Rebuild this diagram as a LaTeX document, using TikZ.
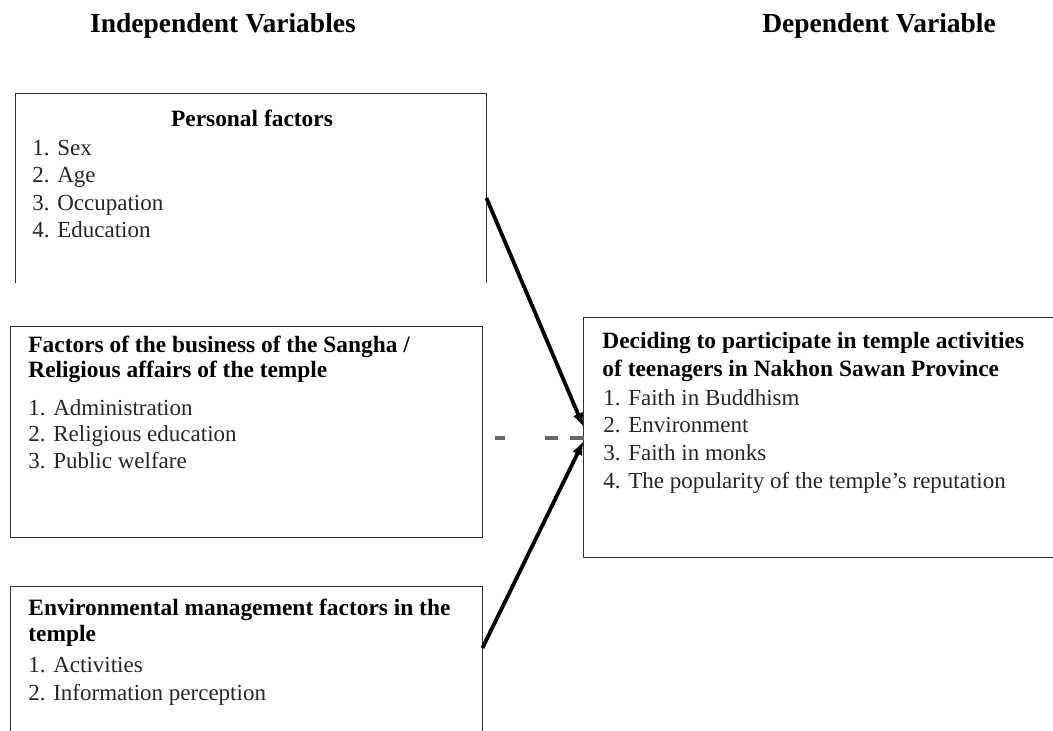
\documentclass[tikz,border=0pt]{standalone}
\usepackage{fontspec}
\setmainfont{Liberation Serif}
\usetikzlibrary{arrows.meta}

\tikzset{
  frame/.style={rectangle,inner sep=0pt},
  rim/.style={draw=black!80,line width=0.6pt},
  head/.style={anchor=base,inner sep=0pt,font=\fontsize{13.75}{16}\selectfont\bfseries},
  title/.style={anchor=base west,inner sep=0pt,font=\fontsize{11.7}{13.8}\selectfont\bfseries},
  item/.style={anchor=base west,inner sep=0pt,text=black!85,font=\fontsize{11.5}{13.8}\selectfont},
  link/.style={line width=1.9pt,-{Latex[length=7pt,width=5.5pt]}},
  dashline/.style={draw=black!60,line width=1.6pt,dash pattern=on 5pt off 20pt on 6.5pt off 6pt on 7pt off 0pt},
}

\begin{document}
\begin{tikzpicture}[x=0.5pt,y=-0.5pt]
\useasboundingbox (0,0) rectangle (1053,730);

\node[head] (indep) at (223,32) {Independent Variables};
\node[head] (dep) at (879,32) {Dependent Variable};

% the four boxes (some are left open on one side)
\node[frame,minimum width=235pt,minimum height=94.5pt] (personal) at (251,188.5) {};
\node[frame,minimum width=235.5pt,minimum height=105pt] (sangha) at (246.5,432) {};
\node[frame,minimum width=235.5pt,minimum height=74pt] (env) at (246.5,661) {};
\node[frame,minimum width=237pt,minimum height=119.5pt] (decide) at (821,437.5) {};
\draw[rim] (personal.south west) |- (personal.north east) -- (personal.south east);
\draw[rim] (sangha.south west) rectangle (sangha.north east);
\draw[rim] (env.south west) |- (env.north east) -- (env.south east);
\draw[rim] (decide.north east) -| (decide.south west) -- (decide.south east);

% personal factors
\node[title,anchor=base] (personal-t) at (252,126) {Personal factors};
\foreach \t [count=\i] in {Sex,Age,Occupation,Education}
  \node[item] (personal-\i) at (32,127.5+27.6*\i) {\i. \t};

% sangha
\node[title] (sangha-t1) at (28,352) {Factors of the business of the Sangha /};
\node[title] (sangha-t2) at (28,377) {Religious affairs of the temple};
\foreach \t [count=\i] in {Administration,Religious education,Public welfare}
  \node[item] (sangha-\i) at (28,388.3+26.7*\i) {\i. \t};

% environment
\node[title] (env-t1) at (28,615) {Environmental management factors in the};
\node[title] (env-t2) at (28,641) {temple};
\foreach \t [count=\i] in {Activities,Information perception}
  \node[item] (env-\i) at (28,644+28*\i) {\i. \t};

% dependent variable
\node[title] (decide-t1) at (602,348) {Deciding to participate in temple activities};
\node[title] (decide-t2) at (602,376) {of teenagers in Nakhon Sawan Province};
\foreach \t [count=\i] in {Faith in Buddhism,Environment,Faith in monks,The popularity of the temple's reputation}
  \node[item] (decide-\i) at (603,377.3+27.7*\i) {\i. \t};

\draw[link] ([yshift=-4.75pt]personal.east) -- ([yshift=5.25pt]decide.west);
\draw[link] ([yshift=6.5pt]env.east) -- ([yshift=-1.75pt]decide.west);
\coordinate (gap) at (495,438);
\draw[dashline] (gap) -- (gap -| decide.west);
\end{tikzpicture}
\end{document}
